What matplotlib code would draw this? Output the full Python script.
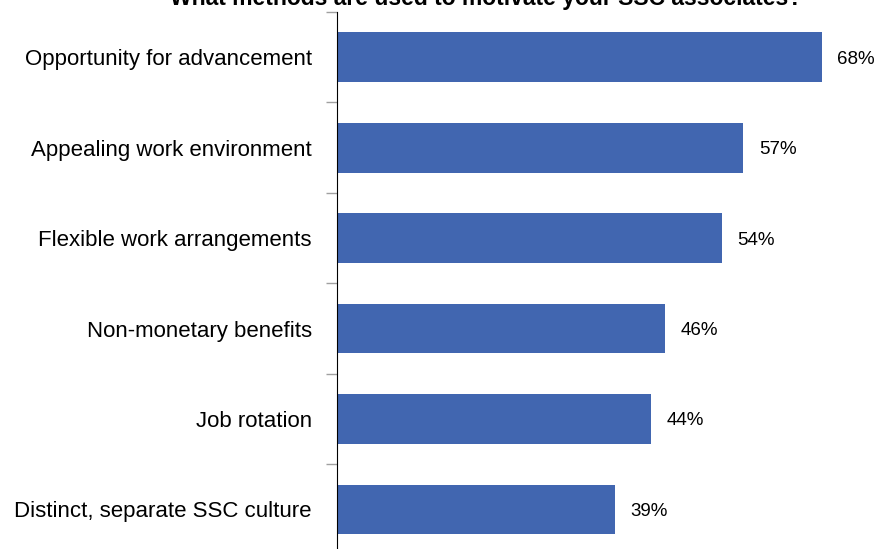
import numpy as np
import matplotlib.pyplot as plt

plt.rcParams['font.family'] = ['Liberation Sans', 'DejaVu Sans']

methods = ['Opportunity for advancement', 'Appealing work environment',
           'Flexible work arrangements', 'Non-monetary benefits',
           'Job rotation', 'Distinct, separate SSC culture']
shares = [68, 57, 54, 46, 44, 39]

fig = plt.figure(figsize=(8.8, 5.49), dpi=100)
ax = fig.add_axes([337 / 880, -0.0102, 1 - 337 / 880, 0.9883])

y = np.arange(len(methods))
ax.barh(y, shares, height=0.55, color='#4166b0')
for yi, v in zip(y, shares):
    ax.text(v + 2.2, yi, f'{v}%', va='center_baseline', ha='left', fontsize=13.5)

ax.set_xlim(0, 76.2)
ax.set_ylim(len(methods) - 0.5, -0.5)
ax.set_xticks([])
ax.set_yticks(y)
ax.set_yticklabels(methods, fontsize=16)
ax.tick_params(axis='y', which='major', length=0, pad=18)
ax.set_yticks(np.arange(len(methods)) - 0.5, minor=True)
ax.tick_params(axis='y', which='minor', length=8, color='#a0a0a0', width=1)
for side in ['top', 'right', 'bottom']:
    ax.spines[side].set_visible(False)
ax.spines['left'].set_color('black')

fig.text(486 / 880, (549 - 5) / 549,
         'What methods are used to motivate your SSC associates?',
         ha='center', va='baseline', fontsize=16.5, fontweight='bold')

fig.savefig('out.png', dpi=100)
